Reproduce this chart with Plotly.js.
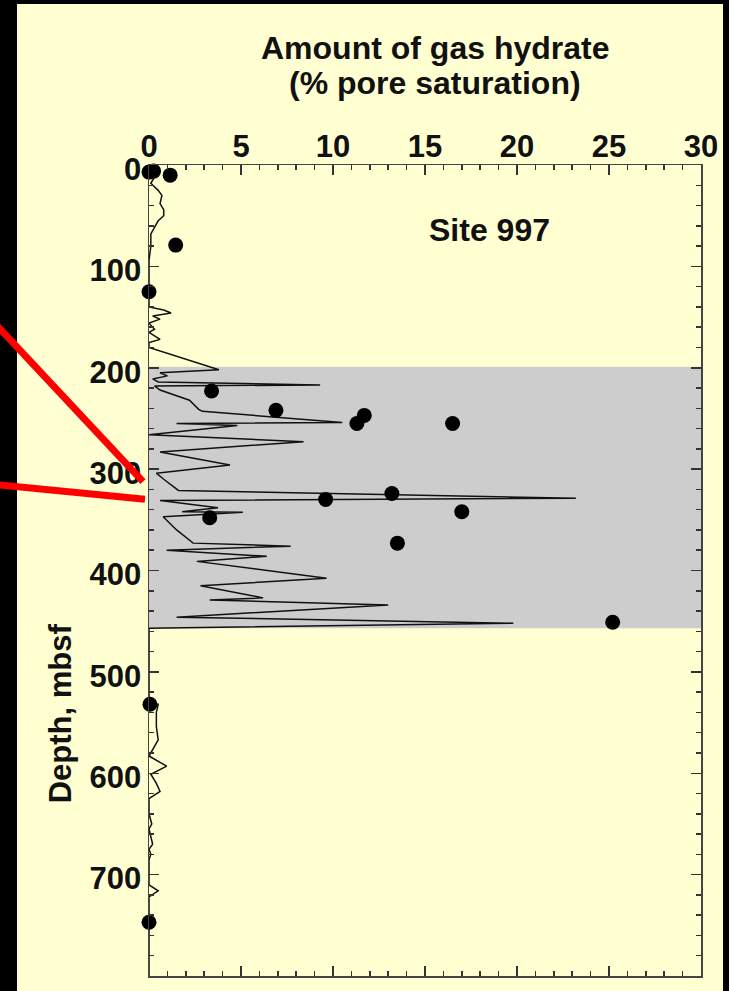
<!DOCTYPE html>
<html>
<head>
<meta charset="utf-8">
<script src="https://cdn.plot.ly/plotly-3.0.1.min.js"></script>
<style>
html,body{margin:0;padding:0;background:#000;}
#chart{width:729px;height:991px;}
</style>
</head>
<body>
<div id="chart"></div>
<script>
// Log-derived gas hydrate saturation profile (depth in mbsf, saturation in %)
const logDepth = [5,12,18,25,30,38,44,50,55,62,68,80,94,120,140,143,146,149,152,156,162,165,172,175,180,
  202,205,208,211,214,217,218,222,232,241,243,254,255,257,266,273,283,296,304,310,321,328.7,331,
  338,342,342.5,347,360,373,376,380,386,391,407.6,415,427,429,434,446,452,457,
  530,532,540,554,567,583,593,601,610,618,625,640,650,655,670,675,680,685,710,716,722,800];
const logSat = [0,0.3,0.1,0.5,0.7,0.6,0.8,0.8,0.5,0.3,0.1,0.1,0,0,0,0.8,1.2,0.2,0.6,0,0.3,0,0.6,0,0,
  3.8,0.6,1.0,0.2,0.5,9.3,0.3,0.6,2.2,2.7,2.9,10.5,1.5,4.8,0,8.4,0.6,4.4,0.4,0.8,1.6,23.2,0.6,
  3.75,1.8,5.1,0.77,1.5,2.4,7.7,0.96,6.4,2.6,9.65,2.8,6.2,3.3,13.0,1.5,19.8,0,
  0,0.5,0.4,0.4,0.5,0,0.96,0.1,0.4,0.6,0,0,0.15,0,0.2,0,0.1,0,0,0.5,0,0];

// Discrete (pore-water) estimates
const ptSat   = [0,0.25,1.15,1.45,0,3.4,6.9,11.7,11.3,16.5,9.6,13.2,17.0,3.3,13.5,25.2,0.05,0];
const ptDepth = [7,6,10,79,125,223,242,247,255,255,330,324,342,348,373,451,532,747];

// Shaded hydrate-bearing interval (mbsf)
const hydrateTop = 199;
const hydrateBase = 457;

// Axis ticks
const xTicks = [0,5,10,15,20,25,30];
const yTicks = [0,100,200,300,400,500,600,700,800];

const font = {family: 'Liberation Sans, Arial, sans-serif', color: '#111', weight: 'bold'};
const yellow = '#ffffd2';

const traces = [
  {x: logSat, y: logDepth, mode: 'lines', type: 'scatter',
   line: {color: '#111', width: 1.5}, hoverinfo: 'skip', cliponaxis: true},
  {x: ptSat, y: ptDepth, mode: 'markers', type: 'scatter',
   marker: {color: '#000', size: 15}, cliponaxis: false}
];

const layout = {
  width: 729, height: 991,
  margin: {l: 149, r: 28, t: 165, b: 15},
  paper_bgcolor: '#000',
  plot_bgcolor: yellow,
  showlegend: false,
  xaxis: {
    side: 'top', range: [0, 30], tickvals: xTicks, ticktext: xTicks.map(String),
    ticks: 'inside', ticklen: 10, tickwidth: 1.5, tickcolor: '#333',
    minor: {dtick: 1, ticks: 'inside', ticklen: 5, tickwidth: 1.5, tickcolor: '#333'},
    showline: true, linecolor: '#444', linewidth: 1.5, mirror: 'ticks',
    showgrid: false, zeroline: false, ticklabelstandoff: -6,
    tickfont: Object.assign({}, font, {size: 31}),
    fixedrange: true
  },
  yaxis: {
    range: [800, 0], tickvals: yTicks, ticktext: yTicks.map(String),
    ticks: 'inside', ticklen: 10, tickwidth: 1.5, tickcolor: '#333',
    minor: {dtick: 20, ticks: 'inside', ticklen: 5, tickwidth: 1.5, tickcolor: '#333'},
    showline: true, linecolor: '#444', linewidth: 1.5, mirror: 'ticks',
    showgrid: false, zeroline: false, ticklabelshift: -4,
    tickfont: Object.assign({}, font, {size: 31}),
    fixedrange: true
  },
  shapes: [
    {type: 'rect', xref: 'paper', yref: 'paper', x0: -0.2391, x1: 1.0399, y0: -0.05, y1: 1.1985,
     fillcolor: yellow, line: {width: 0}, layer: 'below'},
    {type: 'rect', xref: 'paper', yref: 'y', x0: 0, x1: 1, y0: hydrateTop, y1: hydrateBase,
     fillcolor: '#cdcdcd', line: {width: 0}, layer: 'below'},
    {type: 'line', xref: 'paper', yref: 'paper', x0: -0.288, y0: 0.811, x1: -0.0109, y1: 0.6095,
     line: {color: '#ff0000', width: 7}, layer: 'above'},
    {type: 'line', xref: 'paper', yref: 'paper', x0: -0.288, y0: 0.6067, x1: -0.0073, y1: 0.5878,
     line: {color: '#ff0000', width: 7}, layer: 'above'}
  ],
  annotations: [
    {text: 'Amount of gas hydrate', xref: 'paper', yref: 'paper',
     x: 0.518, y: 1.1445, xanchor: 'center', yanchor: 'middle', showarrow: false,
     font: Object.assign({}, font, {size: 32})},
    {text: '(% pore saturation)', xref: 'paper', yref: 'paper',
     x: 0.518, y: 1.1015, xanchor: 'center', yanchor: 'middle', showarrow: false,
     font: Object.assign({}, font, {size: 32})},
    {text: 'Site 997', xref: 'paper', yref: 'paper', x: 0.616, y: 0.92,
     xanchor: 'center', yanchor: 'middle', showarrow: false,
     font: Object.assign({}, font, {size: 32})},
    {text: 'Depth, mbsf', xref: 'paper', yref: 'paper', x: -0.161, y: 0.324,
     xanchor: 'center', yanchor: 'middle', textangle: -90, showarrow: false,
     font: Object.assign({}, font, {size: 31})}
  ]
};

Plotly.newPlot('chart', traces, layout, {staticPlot: true, displayModeBar: false});
</script>
</body>
</html>
